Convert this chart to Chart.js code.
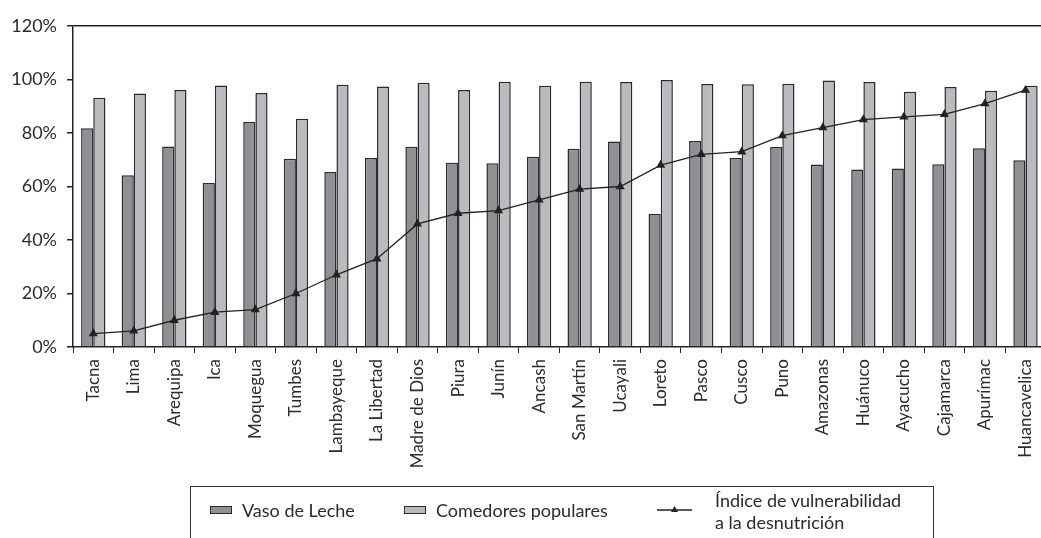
<!DOCTYPE html>
<html>
<head>
<meta charset="utf-8">
<script src="https://cdn.jsdelivr.net/npm/chart.js@4"></script>
<style>
    html, body { margin: 0; padding: 0; background: #fff; overflow: hidden; }
    #wrap { position: relative; width: 1052px; height: 538px; }
    #leyenda {
        position: absolute; left: 190px; top: 486px; width: 742px; height: 70px;
        border: 1.5px solid #333; font-family: Lato, sans-serif; font-size: 18px; color: #2b2b2b;
    }
    .item { position: absolute; top: 12px; line-height: 22px; }
    .caja { position: absolute; width: 20px; height: 6px; border: 1.5px solid #2a2a2a; top: 7px; left: -32px; }
</style>
</head>
<body>
<div id="wrap">
    <canvas id="grafico" width="1052" height="538"></canvas>
    <div id="leyenda">
        <div class="item" style="left:51px"><span class="caja" style="background:#8f9094"></span>Vaso de Leche</div>
        <div class="item" style="left:245px"><span class="caja" style="background:#babbbf"></span>Comedores populares</div>
        <div class="item" style="left:524px; top:2px">
            <svg style="position:absolute; left:-58px; top:16px" width="36" height="8">
                <line x1="0" y1="5" x2="35" y2="5" stroke="#222" stroke-width="1.3"/>
                <polygon points="17.5,1 21,7 14,7" fill="#222"/>
            </svg>
            Índice de vulnerabilidad<br>a la desnutrición
        </div>
    </div>
</div>
<script>
// --- DATOS ---
const regiones = ['Tacna', 'Lima', 'Arequipa', 'Ica', 'Moquegua', 'Tumbes', 'Lambayeque', 'La Libertad',
    'Madre de Dios', 'Piura', 'Junín', 'Ancash', 'San Martín', 'Ucayali', 'Loreto', 'Pasco', 'Cusco',
    'Puno', 'Amazonas', 'Huánuco', 'Ayacucho', 'Cajamarca', 'Apurímac', 'Huancavelica'];

const vasoDeLeche = [81.8, 64.2, 75.0, 61.3, 84.1, 70.4, 65.4, 70.7, 74.9, 68.9, 68.7, 71.1,
    74.1, 76.8, 49.7, 77.0, 70.7, 74.8, 68.2, 66.4, 66.7, 68.3, 74.3, 69.8];

const comedores = [93.2, 94.8, 96.1, 97.8, 95.0, 85.3, 98.0, 97.4, 98.8, 96.1, 99.2, 97.7,
    99.2, 99.1, 99.8, 98.3, 98.2, 98.4, 99.6, 99.1, 95.4, 97.2, 95.8, 97.7];

const indiceVulnerabilidad = [5, 6, 10, 13, 14, 20, 27, 33, 46, 50, 51, 55,
    59, 60, 68, 72, 73, 79, 82, 85, 86, 87, 91, 96];

const ticksY = [0, 20, 40, 60, 80, 100, 120];

const fonte = { family: 'Lato, sans-serif', size: 18 };
const corTexto = '#2b2b2b';

const ctx = document.getElementById('grafico').getContext('2d');

new Chart(ctx, {
    type: 'bar',
    data: {
        labels: regiones,
        datasets: [
            {
                type: 'line',
                label: 'Índice de vulnerabilidad a la desnutrición',
                data: indiceVulnerabilidad,
                borderColor: '#222',
                backgroundColor: '#222',
                borderWidth: 1.3,
                pointStyle: 'triangle',
                pointRadius: 4,
                tension: 0,
                order: 0
            },
            {
                label: 'Vaso de Leche',
                data: vasoDeLeche,
                backgroundColor: '#8f9094',
                borderColor: '#2a2a2a',
                borderWidth: 1.5,
                categoryPercentage: 0.6,
                barPercentage: 1.0,
                order: 1
            },
            {
                label: 'Comedores populares',
                data: comedores,
                backgroundColor: '#babbbf',
                borderColor: '#2a2a2a',
                borderWidth: 1.5,
                categoryPercentage: 0.6,
                barPercentage: 1.0,
                order: 1
            }
        ]
    },
    options: {
        responsive: false,
        animation: false,
        layout: { padding: { top: 26, right: 2, left: 0, bottom: 0 } },
        plugins: {
            legend: { display: false },
            tooltip: { enabled: false }
        },
        scales: {
            x: {
                offset: true,
                grid: { drawOnChartArea: false, drawTicks: true, tickLength: 6, tickColor: '#222', offset: true },
                border: { display: true, color: '#222', width: 1.5 },
                ticks: { minRotation: 90, maxRotation: 90, autoSkip: false, padding: 6, color: corTexto, font: { family: 'Lato, sans-serif', size: 17 } },
                afterFit: (scale) => { scale.height = 538 - 347; }
            },
            y: {
                min: 0,
                max: 120,
                afterBuildTicks: (scale) => { scale.ticks = ticksY.map(v => ({ value: v })); },
                grid: {
                    drawTicks: true,
                    tickLength: 6,
                    tickColor: '#222',
                    lineWidth: 1.5,
                    color: (c) => c.tick && c.tick.value === 120 ? '#222' : 'rgba(0,0,0,0)'
                },
                border: { display: true, color: '#222', width: 1.5 },
                ticks: {
                    padding: 10,
                    color: corTexto,
                    font: fonte,
                    callback: (v) => v + '%'
                },
                afterFit: (scale) => { scale.width = 73; }
            }
        }
    }
});
</script>
</body>
</html>
